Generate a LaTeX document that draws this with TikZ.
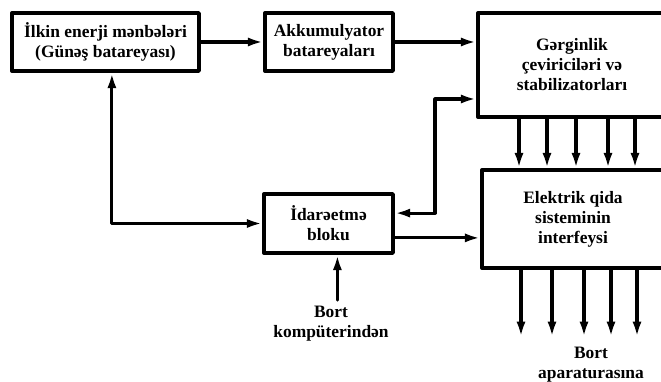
\documentclass[tikz,border=0pt]{standalone}
\usepackage{fontspec}
\setmainfont{Liberation Serif}
\usetikzlibrary{arrows.meta}

\begin{document}
\begin{tikzpicture}[line cap=round, line join=round,
		blok/.style={draw, line width=2.4pt, align=center, font=\bfseries, inner sep=2pt},
		arr/.style={line width=2.2pt, -{Latex[length=11pt,width=6.5pt]}},
		birge/.style={line width=2.2pt, {Latex[length=11pt,width=6.5pt]}-{Latex[length=11pt,width=6.5pt]}}]
		\useasboundingbox (0,0) rectangle (16.525,9.525);
		\fontsize{12.4}{14.2}\selectfont
		% bloklar
		\node[blok, minimum width=4.675cm, minimum height=1.45cm] (ilkin) at (2.6375,8.475) {İlkin enerji mənbələri\\(Günəş batareyası)};
		\node[blok, minimum width=3.2cm, minimum height=1.45cm] (akk) at (8.225,8.475) {Akkumulyator\\batareyaları};
		\node[blok, minimum width=4.7cm, minimum height=2.6cm] (gerg) at (14.3,7.9) {Gərginlik\\çeviriciləri və\\stabilizatorları};
		\node[blok, minimum width=4.55cm, minimum height=2.45cm] (elek) at (14.325,4.05) {Elektrik qida\\sisteminin\\interfeysi};
		\node[blok, minimum width=3.225cm, minimum height=1.475cm] (idare) at (8.2125,3.9375) {İdarəetmə\\bloku};
		\node[align=center, font=\bfseries, anchor=north, inner ysep=4pt] (komp) at (8.275,2.025) {Bort\\kompüterindən};
		\node[align=center, font=\bfseries] (apar) at (14.775,0.42) {Bort\\aparaturasına};
		\coordinate (don) at (10.875,7.05);
		% oxlar
		\draw[arr] (ilkin) -- (akk);
		\draw[arr] (akk.east) -- (akk.east -| gerg.west);
		\draw[birge] ([yshift=0.26cm]idare.east) -| (don) -- (don -| gerg.west);
		\draw[birge] ([xshift=0.16cm]ilkin.south) |- (idare.west);
		\draw[arr] ([yshift=-0.36cm]idare.east) -- ([yshift=-0.36cm]idare.east -| elek.west);
		\draw[arr] ([xshift=0.16cm]komp.north) -- ([xshift=0.16cm]komp.north |- idare.south);
		\foreach \x in {12.975,13.675,14.4,15.2,15.875}
			\draw[arr] (\x,0 |- gerg.south) -- (\x,0 |- elek.north);
		\foreach \x in {13.025,13.8,14.6,15.275,15.925}
			\draw[arr] (\x,0 |- elek.south) -- (\x,1.1);
	\end{tikzpicture}
\end{document}
